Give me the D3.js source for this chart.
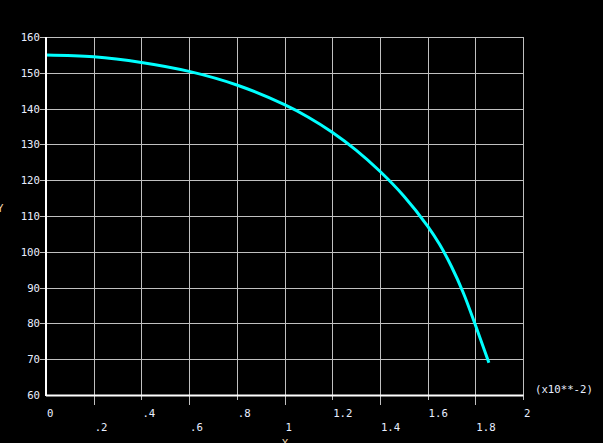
<!DOCTYPE html>
<html>
<head>
<meta charset="utf-8">
<script src="https://cdn.jsdelivr.net/npm/d3@7"></script>
<style>
  body { margin: 0; background: #000; overflow: hidden; }
  text { font-family: "DejaVu Sans Mono", monospace; font-size: 10.7px; fill: #e8eeff; }
</style>
</head>
<body>
<div id="chart"></div>
<script>
// data (x in units of 10**-2)
var curveX = [0, 0.2, 0.4, 0.6, 0.8, 1.0, 1.1, 1.2, 1.3, 1.4, 1.5, 1.6, 1.65, 1.7, 1.75, 1.8, 1.857]
var curveY = [155, 154.5, 152.9, 150.4, 146.6, 141.1, 137.6, 133.4, 128.4, 122.5, 115.6, 107.2, 102.1, 95.9, 88.5, 79.6, 69]

var xTicks = [0, 0.2, 0.4, 0.6, 0.8, 1.0, 1.2, 1.4, 1.6, 1.8, 2.0]
var xTickLabels = ["0", ".2", ".4", ".6", ".8", "1", "1.2", "1.4", "1.6", "1.8", "2"]
var yTicks = [60, 70, 80, 90, 100, 110, 120, 130, 140, 150, 160]

var width = 603, height = 443
var plotLeft = 46, plotRight = 523, plotTop = 37, plotBottom = 395

var svg = d3.select("#chart").append("svg")
    .attr("width", width)
    .attr("height", height)
svg.append("rect").attr("width", width).attr("height", height).attr("fill", "#000")

var x = d3.scaleLinear().domain([0, 2]).range([plotLeft, plotRight])
var y = d3.scaleLinear().domain([60, 160]).range([plotBottom, plotTop])

// horizontal grid lines + short ticks on the left
svg.selectAll(".hgrid")
    .data(yTicks.slice(1))
    .enter().append("line")
    .attr("x1", plotLeft - 6).attr("x2", plotRight)
    .attr("y1", d => Math.round(y(d)) + 0.5).attr("y2", d => Math.round(y(d)) + 0.5)
    .attr("stroke", "#c0c0c0").attr("stroke-width", 1)

// vertical grid lines, alternating tick length below the axis
svg.selectAll(".vgrid")
    .data(xTicks.slice(1))
    .enter().append("line")
    .attr("x1", d => Math.round(x(d)) + 0.5).attr("x2", d => Math.round(x(d)) + 0.5)
    .attr("y1", plotTop)
    .attr("y2", (d, i) => i % 2 == 0 ? plotBottom + 10 : plotBottom + 5)
    .attr("stroke", "#c0c0c0").attr("stroke-width", 1)

// curve
var pts = curveX.map((v, i) => [v, curveY[i]])
var line = d3.line()
    .x(d => x(d[0]))
    .y(d => y(d[1]))
    .curve(d3.curveCatmullRom.alpha(0.5))
svg.append("path")
    .datum(pts)
    .attr("d", line)
    .attr("fill", "none")
    .attr("stroke", "#00ffff")
    .attr("stroke-width", 3)

// axes
svg.append("line")
    .attr("x1", plotLeft).attr("x2", plotLeft).attr("y1", plotTop).attr("y2", plotBottom + 1)
    .attr("stroke", "#fff").attr("stroke-width", 2)
svg.append("line")
    .attr("x1", plotLeft).attr("x2", plotRight + 0.5).attr("y1", plotBottom + 0.5).attr("y2", plotBottom + 0.5)
    .attr("stroke", "#fff").attr("stroke-width", 2)

// y tick labels
svg.selectAll(".ylab")
    .data(yTicks)
    .enter().append("text")
    .attr("x", plotLeft - 6)
    .attr("y", d => y(d) + 4)
    .attr("text-anchor", "end")
    .text(d => d)

// x tick labels, staggered rows
svg.selectAll(".xlab")
    .data(xTicks)
    .enter().append("text")
    .attr("x", d => x(d) + 1)
    .attr("y", (d, i) => i % 2 == 0 ? 417 : 431)
    .text((d, i) => xTickLabels[i])

svg.append("text").attr("x", 535).attr("y", 393).text("(x10**-2)")

// axis titles
svg.append("text").attr("x", -3).attr("y", 212).style("fill", "#f0d8b0").text("Y")
svg.append("text").attr("x", 285).attr("y", 447).attr("text-anchor", "middle").style("fill", "#f0d8b0").text("X")
</script>
</body>
</html>
